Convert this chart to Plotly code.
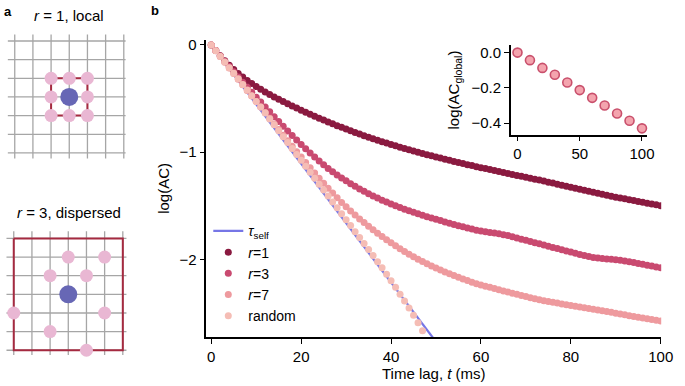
import plotly.graph_objects as go

W, H = 685, 386
FONT = "Liberation Sans, Arial, Helvetica, sans-serif"

# ---------------- data: panel b ----------------
t = list(range(101))
r1 = [0, -0.052, -0.101, -0.147, -0.19, -0.23, -0.267, -0.30, -0.331, -0.36,
      -0.387, -0.413, -0.438, -0.462, -0.485, -0.507, -0.528, -0.549, -0.569, -0.589,
      -0.609, -0.628, -0.647, -0.665, -0.683, -0.701, -0.719, -0.736, -0.753, -0.769,
      -0.785, -0.801, -0.817, -0.832, -0.847, -0.861, -0.875, -0.889, -0.903, -0.916,
      -0.929, -0.941, -0.954, -0.966, -0.978, -0.99, -1.001, -1.013, -1.024, -1.035,
      -1.045, -1.056, -1.066, -1.077, -1.087, -1.097, -1.107, -1.117, -1.126, -1.136,
      -1.145, -1.154, -1.163, -1.172, -1.181, -1.19, -1.199, -1.208, -1.217, -1.226,
      -1.235, -1.244, -1.253, -1.261, -1.27, -1.28, -1.289, -1.299, -1.308, -1.318,
      -1.327, -1.337, -1.346, -1.356, -1.365, -1.375, -1.384, -1.394, -1.403, -1.411,
      -1.42, -1.428, -1.436, -1.444, -1.452, -1.46, -1.468, -1.476, -1.484, -1.492,
      -1.50]
r3 = [0, -0.052, -0.103, -0.153, -0.202, -0.251, -0.299, -0.347, -0.394, -0.441,
      -0.487, -0.533, -0.579, -0.624, -0.669, -0.714, -0.758, -0.802, -0.845, -0.888,
      -0.929, -0.969, -1.008, -1.046, -1.083, -1.119, -1.154, -1.184, -1.213, -1.241,
      -1.268, -1.294, -1.319, -1.343, -1.366, -1.388, -1.409, -1.429, -1.448, -1.466,
      -1.484, -1.501, -1.517, -1.532, -1.547, -1.561, -1.575, -1.589, -1.602, -1.615,
      -1.627, -1.639, -1.651, -1.663, -1.675, -1.686, -1.697, -1.708, -1.718, -1.728,
      -1.736, -1.743, -1.749, -1.755, -1.762, -1.77, -1.779, -1.79, -1.801, -1.812,
      -1.823, -1.834, -1.845, -1.856, -1.867, -1.878, -1.889, -1.9, -1.911, -1.922,
      -1.933, -1.944, -1.955, -1.965, -1.975, -1.983, -1.989, -1.993, -1.997, -2.0,
      -2.004, -2.009, -2.015, -2.023, -2.031, -2.039, -2.047, -2.055, -2.063, -2.071,
      -2.079]
r7 = [0, -0.054, -0.108, -0.161, -0.214, -0.267, -0.32, -0.372, -0.424, -0.476,
      -0.528, -0.58, -0.631, -0.684, -0.737, -0.79, -0.842, -0.894, -0.945, -0.996,
      -1.046, -1.096, -1.146, -1.195, -1.243, -1.29, -1.336, -1.381, -1.426, -1.469,
      -1.51, -1.549, -1.587, -1.623, -1.657, -1.691, -1.724, -1.756, -1.787, -1.817,
      -1.846, -1.874, -1.901, -1.927, -1.952, -1.976, -1.999, -2.021, -2.042, -2.063,
      -2.082, -2.1, -2.118, -2.135, -2.152, -2.168, -2.184, -2.199, -2.214, -2.228,
      -2.24, -2.251, -2.262, -2.273, -2.284, -2.295, -2.306, -2.317, -2.327, -2.338,
      -2.348, -2.358, -2.368, -2.378, -2.388, -2.395, -2.402, -2.409, -2.417, -2.424,
      -2.431, -2.438, -2.445, -2.452, -2.459, -2.466, -2.473, -2.48, -2.487, -2.495,
      -2.503, -2.511, -2.518, -2.526, -2.533, -2.54, -2.547, -2.554, -2.561, -2.568,
      -2.575]
t_random = list(range(48))
random_ac = [0, -0.055, -0.108, -0.16, -0.212, -0.264, -0.316, -0.369, -0.421, -0.473,
             -0.527, -0.58, -0.634, -0.69, -0.745, -0.801, -0.856, -0.911, -0.967, -1.022,
             -1.077, -1.133, -1.188, -1.244, -1.299, -1.354, -1.41, -1.465, -1.52, -1.576,
             -1.631, -1.684, -1.742, -1.797, -1.853, -1.908, -1.965, -2.023, -2.08, -2.139,
             -2.2, -2.262, -2.326, -2.389, -2.454, -2.522, -2.592, -2.667]
tau_t = [0, 50]
tau_y = [0, -2.77]

x_ticks = [0, 20, 40, 60, 80, 100]
y_ticks = [0, -1, -2]

inset_t = [0, 10, 20, 30, 40, 50, 60, 70, 80, 90, 100]
inset_y = [0, -0.043, -0.087, -0.126, -0.17, -0.213, -0.257, -0.30, -0.346, -0.387, -0.43]
inset_xticks = [0, 50, 100]
inset_yticks = [0, -0.2, -0.4]

# ---------------- data: panel a ----------------
grid_idx = [0, 1, 2, 3, 4, 5, 6]
center = (3, 3)
local_nb_x = [2, 3, 4, 2, 4, 2, 3, 4]
local_nb_y = [2, 2, 2, 3, 3, 4, 4, 4]
local_box_x = [2, 4, 4, 2, 2]
local_box_y = [2, 2, 4, 4, 2]
disp_nb_x = [3, 5, 2, 4, 0, 5, 2, 4]
disp_nb_y = [1, 1, 2, 2, 4, 4, 5, 6]
disp_box_x = [0, 6, 6, 0, 0]
disp_box_y = [0, 0, 6, 6, 0]

C_R1 = "#8a1a40"
C_R3 = "#c94a70"
C_R7 = "#ee9a9e"
C_RND = "#f5bdb5"
C_TAU = "#7676e6"
C_PINK = "#e9b7d3"
C_BLUE = "#6767b5"
C_BOX = "#a52a40"
C_GRID = "#a6a6a6"

fig = go.Figure()

# main panel
fig.add_trace(go.Scatter(x=tau_t, y=tau_y, mode="lines", line=dict(color=C_TAU, width=2.2),
                         name="<i>τ</i><sub>self</sub>", xaxis="x", yaxis="y"))
for yy, col, nm in [(r1, C_R1, "<i>r</i>=1"), (r3, C_R3, "<i>r</i>=3"), (r7, C_R7, "<i>r</i>=7")]:
    fig.add_trace(go.Scatter(x=t, y=yy, mode="markers", marker=dict(color=col, size=7, line=dict(width=0)),
                             name=nm, xaxis="x", yaxis="y"))
fig.add_trace(go.Scatter(x=t_random, y=random_ac, mode="markers",
                         marker=dict(color=C_RND, size=7, line=dict(width=0)),
                         name="random", xaxis="x", yaxis="y"))

# inset
fig.add_trace(go.Scatter(x=inset_t, y=inset_y, mode="markers",
                         marker=dict(color="#f4a4ae", size=9, line=dict(color="#c9506c", width=1.6)),
                         showlegend=False, xaxis="x2", yaxis="y2", cliponaxis=False))

# panel a grids
def grid_traces(xa, ya, vext, hext):
    gx, gy = [], []
    for c in grid_idx:
        gx += [c, c, None]
        gy += [vext[0], vext[1], None]
    for r in grid_idx:
        gx += [hext[0], hext[1], None]
        gy += [r, r, None]
    return go.Scatter(x=gx, y=gy, mode="lines", line=dict(color=C_GRID, width=1.3),
                      showlegend=False, xaxis=xa, yaxis=ya, hoverinfo="skip")

fig.add_trace(grid_traces("x3", "y3", (-0.35, 6.3), (-0.38, 6.1)))
fig.add_trace(go.Scatter(x=local_box_x, y=local_box_y, mode="lines", line=dict(color=C_BOX, width=2),
                         showlegend=False, xaxis="x3", yaxis="y3"))
fig.add_trace(go.Scatter(x=local_nb_x, y=local_nb_y, mode="markers", marker=dict(color=C_PINK, size=13),
                         showlegend=False, xaxis="x3", yaxis="y3", cliponaxis=False))
fig.add_trace(go.Scatter(x=[center[0]], y=[center[1]], mode="markers", marker=dict(color=C_BLUE, size=18),
                         showlegend=False, xaxis="x3", yaxis="y3"))

fig.add_trace(grid_traces("x4", "y4", (-0.39, 6.25), (-0.4, 6.2)))
fig.add_trace(go.Scatter(x=disp_box_x, y=disp_box_y, mode="lines", line=dict(color=C_BOX, width=2),
                         showlegend=False, xaxis="x4", yaxis="y4"))
fig.add_trace(go.Scatter(x=disp_nb_x, y=disp_nb_y, mode="markers", marker=dict(color=C_PINK, size=13),
                         showlegend=False, xaxis="x4", yaxis="y4", cliponaxis=False))
fig.add_trace(go.Scatter(x=[center[0]], y=[center[1]], mode="markers", marker=dict(color=C_BLUE, size=18),
                         showlegend=False, xaxis="x4", yaxis="y4"))

def px_x(p):
    return p / W

def px_y(p):
    return 1 - p / H

axis_common = dict(showgrid=False, zeroline=False, showline=True, linecolor="black", linewidth=1.5,
                   ticks="outside", ticklen=5, tickwidth=1.3, tickcolor="black",
                   tickfont=dict(family=FONT, size=15, color="black"))

fig.update_layout(
    width=W, height=H, autosize=False, margin=dict(l=0, r=0, t=0, b=0),
    paper_bgcolor="white", plot_bgcolor="rgba(0,0,0,0)",
    font=dict(family=FONT, size=15, color="black"),
    xaxis=dict(domain=[px_x(210), px_x(673)], range=[-1.1, 100.1], tickvals=x_ticks,
               title=dict(text="Time lag, <i>t</i> (ms)", font=dict(size=15), standoff=4),
               anchor="y", **axis_common),
    yaxis=dict(domain=[px_y(336.7), px_y(37)], range=[-2.726, 0.049], tickvals=y_ticks,
               title=dict(text="log(AC)", font=dict(size=15), standoff=6),
               anchor="x", **axis_common),
    xaxis2=dict(domain=[px_x(520), px_x(659)], range=[-5.3, 104.4], tickvals=inset_xticks,
                anchor="y2", **axis_common),
    yaxis2=dict(domain=[px_y(132.7), px_y(42.7)], range=[-0.466, 0.041], tickvals=inset_yticks,
                tickformat=".1f",
                title=dict(text="log(AC<sub>global</sub>)", font=dict(size=15), standoff=8),
                anchor="x2", **axis_common),
    xaxis3=dict(domain=[0, px_x(140)], range=[-15 / 18.5, 125 / 18.5], visible=False, anchor="y3"),
    yaxis3=dict(domain=[px_y(165), px_y(25)], range=[6.739, -0.707], visible=False, anchor="x3"),
    xaxis4=dict(domain=[0, px_x(140)], range=[-14 / 18.5, 126 / 18.5], visible=False, anchor="y4"),
    yaxis4=dict(domain=[px_y(364), px_y(224)], range=[6.747, -0.708], visible=False, anchor="x4"),
    legend=dict(x=px_x(212), y=px_y(214), xanchor="left", yanchor="top",
                bgcolor="rgba(0,0,0,0)", font=dict(family=FONT, size=14),
                itemwidth=30, tracegroupgap=0),
    showlegend=True,
    annotations=[
        dict(text="<b>a</b>", x=px_x(2), y=px_y(9), xref="paper", yref="paper", showarrow=False,
             xanchor="left", yanchor="middle", font=dict(size=13)),
        dict(text="<b>b</b>", x=px_x(152), y=px_y(8), xref="paper", yref="paper", showarrow=False,
             xanchor="left", yanchor="middle", font=dict(size=13)),
        dict(text="<i>r</i> = 1, local", x=px_x(70), y=px_y(13), xref="paper", yref="paper",
             showarrow=False, xanchor="center", yanchor="middle", font=dict(size=15)),
        dict(text="<i>r</i> = 3, dispersed", x=px_x(70), y=px_y(211), xref="paper", yref="paper",
             showarrow=False, xanchor="center", yanchor="middle", font=dict(size=15)),
    ],
)

# The page's default 8px body margin would offset the fixed-size figure; remove it.
post = "document.body.style.margin='0';document.body.style.overflow='hidden';"
fig.write_html("out.html", config={"displayModeBar": False}, post_script=post)
